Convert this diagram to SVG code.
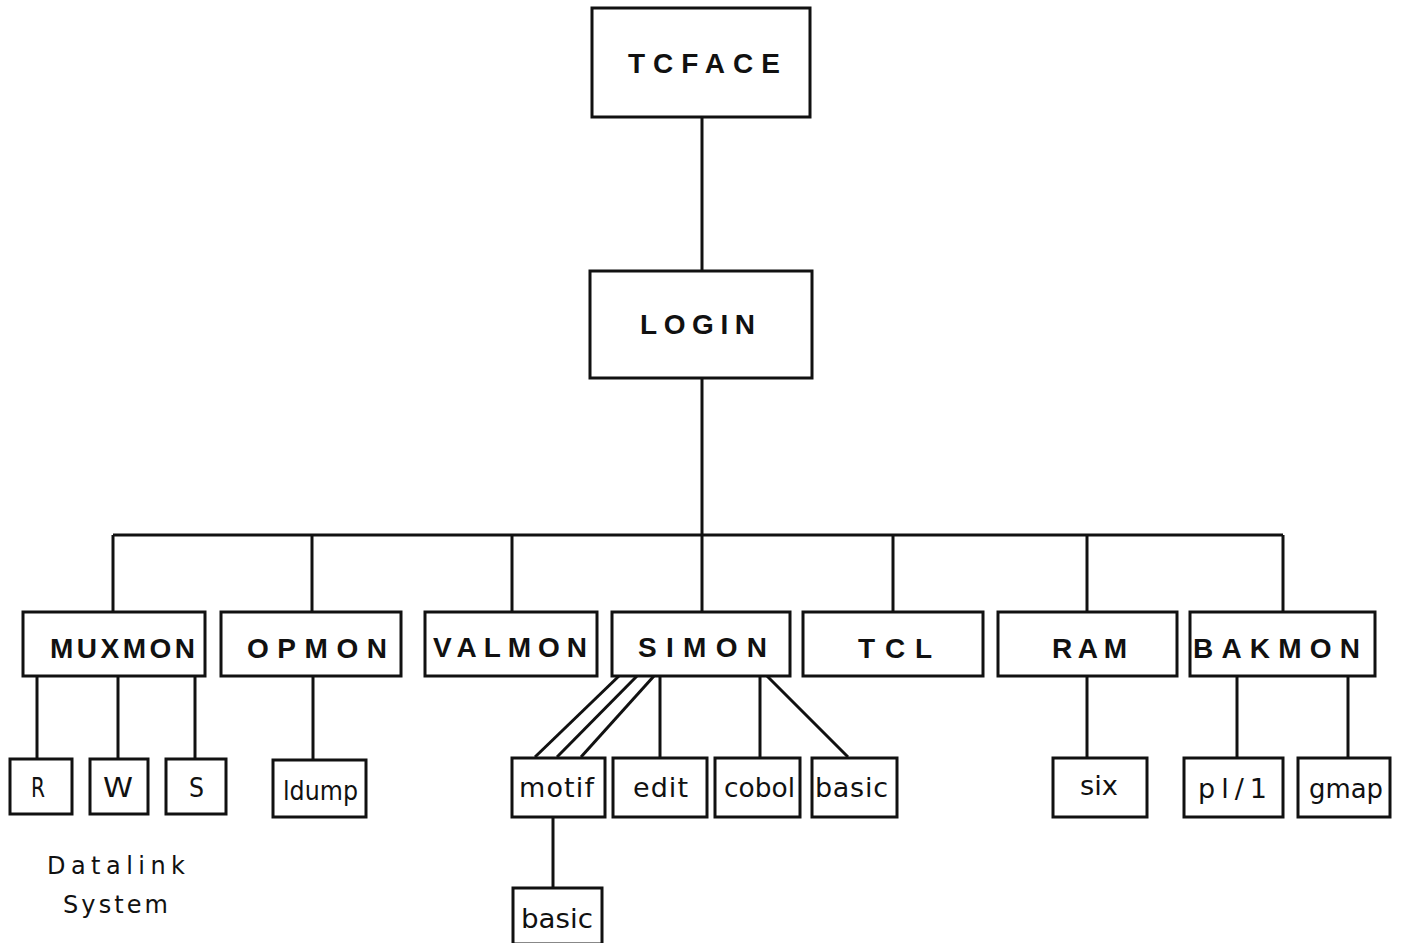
<svg xmlns="http://www.w3.org/2000/svg" width="1401" height="943" viewBox="0 0 1401 943">
<style>
.box{fill:#fff;stroke:#111;stroke-width:3}
.ln{stroke:#111;stroke-width:3;fill:none}
.hb{font-family:"Liberation Sans",Arial,sans-serif;font-weight:bold;font-size:28px;fill:#111}
.lb{font-family:"DejaVu Sans","Liberation Sans",sans-serif;font-size:27px;fill:#111}
.nt{font-family:"DejaVu Sans","Liberation Sans",sans-serif;font-size:24px;fill:#111}
</style>
<rect width="1401" height="943" fill="#fff"/>
<g id="connectors">
<line class="ln" x1="702" y1="117" x2="702" y2="271"/>
<line class="ln" x1="702" y1="378" x2="702" y2="612"/>
<line class="ln" x1="113" y1="535" x2="1283" y2="535"/>
<line class="ln" x1="113" y1="535" x2="113" y2="612"/>
<line class="ln" x1="312" y1="535" x2="312" y2="612"/>
<line class="ln" x1="512" y1="535" x2="512" y2="612"/>
<line class="ln" x1="893" y1="535" x2="893" y2="612"/>
<line class="ln" x1="1087" y1="535" x2="1087" y2="612"/>
<line class="ln" x1="1283" y1="535" x2="1283" y2="612"/>
<line class="ln" x1="37" y1="676" x2="37" y2="758"/>
<line class="ln" x1="118" y1="676" x2="118" y2="758"/>
<line class="ln" x1="195" y1="676" x2="195" y2="758"/>
<line class="ln" x1="313" y1="676" x2="313" y2="760"/>
<line class="ln" x1="620" y1="675" x2="535" y2="757"/>
<line class="ln" x1="638" y1="675" x2="557" y2="757"/>
<line class="ln" x1="654" y1="676" x2="581" y2="757"/>
<line class="ln" x1="660" y1="676" x2="660" y2="757"/>
<line class="ln" x1="760" y1="676" x2="760" y2="757"/>
<line class="ln" x1="767" y1="676" x2="848" y2="757"/>
<line class="ln" x1="553" y1="817" x2="553" y2="888"/>
<line class="ln" x1="1087" y1="676" x2="1087" y2="758"/>
<line class="ln" x1="1237" y1="676" x2="1237" y2="758"/>
<line class="ln" x1="1348" y1="676" x2="1348" y2="758"/>
</g>
<g id="tcface"><rect class="box" x="592" y="8" width="218" height="109"/><text class="hb" x="628" y="73" textLength="152" lengthAdjust="spacing" font-size="30">TCFACE</text></g>
<g id="login"><rect class="box" x="590" y="271" width="222" height="107"/><text class="hb" x="640" y="334" textLength="115" lengthAdjust="spacing" font-size="30">LOGIN</text></g>
<g id="muxmon"><rect class="box" x="23" y="612" width="182" height="64"/><text class="hb" x="50" y="658" textLength="145" lengthAdjust="spacing">MUXMON</text></g>
<g id="opmon"><rect class="box" x="221" y="612" width="180" height="64"/><text class="hb" x="247" y="658" textLength="140" lengthAdjust="spacing">OPMON</text></g>
<g id="valmon"><rect class="box" x="425" y="612" width="172" height="64"/><text class="hb" x="433" y="657" textLength="154" lengthAdjust="spacing">VALMON</text></g>
<g id="simon"><rect class="box" x="612" y="612" width="178" height="64"/><text class="hb" x="638" y="657" textLength="129" lengthAdjust="spacing">SIMON</text></g>
<g id="tcl"><rect class="box" x="803" y="612" width="180" height="64"/><text class="hb" x="858" y="658" textLength="74" lengthAdjust="spacing">TCL</text></g>
<g id="ram"><rect class="box" x="998" y="612" width="179" height="64"/><text class="hb" x="1052" y="658" textLength="75" lengthAdjust="spacing">RAM</text></g>
<g id="bakmon"><rect class="box" x="1190" y="612" width="185" height="64"/><text class="hb" x="1193" y="658" textLength="167" lengthAdjust="spacing">BAKMON</text></g>
<g id="r"><rect class="box" x="10" y="759" width="62" height="55"/><text class="lb" x="31" y="797" textLength="14" lengthAdjust="spacingAndGlyphs">R</text></g>
<g id="w"><rect class="box" x="90" y="759" width="58" height="55"/><text class="lb" x="103" y="797" textLength="30" lengthAdjust="spacingAndGlyphs">W</text></g>
<g id="s"><rect class="box" x="166" y="759" width="60" height="55"/><text class="lb" x="189" y="797" textLength="15" lengthAdjust="spacingAndGlyphs">S</text></g>
<g id="ldump"><rect class="box" x="273" y="760" width="93" height="57"/><text class="lb" x="283" y="800" textLength="75" lengthAdjust="spacingAndGlyphs">ldump</text></g>
<g id="motif"><rect class="box" x="512" y="758" width="93" height="59"/><text class="lb" x="519" y="797" textLength="75" lengthAdjust="spacing">motif</text></g>
<g id="edit"><rect class="box" x="613" y="758" width="94" height="59"/><text class="lb" x="633" y="797" textLength="55" lengthAdjust="spacing">edit</text></g>
<g id="cobol"><rect class="box" x="715" y="758" width="85" height="59"/><text class="lb" x="724" y="797" textLength="71" lengthAdjust="spacingAndGlyphs">cobol</text></g>
<g id="basic1"><rect class="box" x="812" y="758" width="85" height="59"/><text class="lb" x="815" y="797" textLength="73" lengthAdjust="spacing">basic</text></g>
<g id="basic2"><rect class="box" x="513" y="888" width="89" height="56"/><text class="lb" x="521" y="928" textLength="72" lengthAdjust="spacingAndGlyphs">basic</text></g>
<g id="six"><rect class="box" x="1053" y="758" width="94" height="59"/><text class="lb" x="1080" y="795" textLength="38" lengthAdjust="spacingAndGlyphs">six</text></g>
<g id="pl1"><rect class="box" x="1184" y="758" width="99" height="59"/><text class="lb" x="1198" y="798" textLength="69" lengthAdjust="spacing">pl/1</text></g>
<g id="gmap"><rect class="box" x="1298" y="758" width="92" height="59"/><text class="lb" x="1309" y="798" textLength="74" lengthAdjust="spacingAndGlyphs">gmap</text></g>
<g id="datalink-label"><text class="nt" x="47" y="874" textLength="138" lengthAdjust="spacing">Datalink</text><text class="nt" x="63" y="913" textLength="105" lengthAdjust="spacing">System</text></g>
</svg>
